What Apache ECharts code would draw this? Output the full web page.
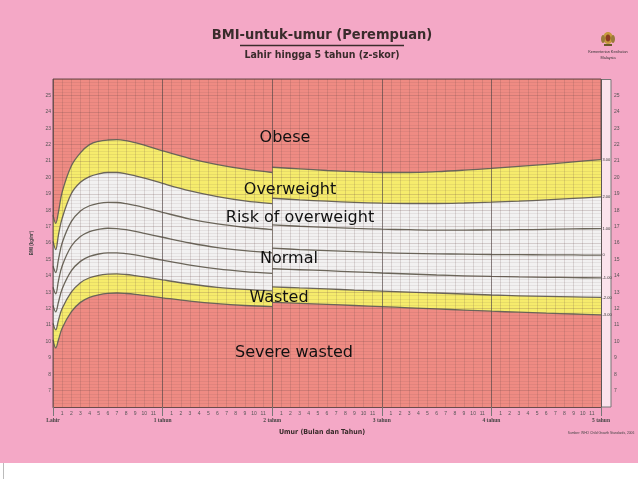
<!DOCTYPE html>
<html><head><meta charset="utf-8">
<script src="https://cdn.jsdelivr.net/npm/echarts@6/dist/echarts.min.js"></script>
<style>html,body{margin:0;padding:0;background:#F4A8C6;}#c{width:638px;height:479px;}</style>
</head><body><div id="c"></div>
<script>
// ---- data (BMI, kg/m2, by age in months) ----
const monthsA = [0,0.3,0.6,1,2,3,4,5,6,7,8,9,10,12,15,18,21,24];
const monthsB = [24,27,30,33,36,39,42,45,48,51,54,57,60];

const sd3A  = [17.7,17.2,17.9,19.1,20.7,21.5,22.0,22.2,22.28,22.3,22.24,22.12,21.97,21.62,21.15,20.78,20.50,20.30];
const sd2A  = [16.1,15.6,16.5,17.5,19.0,19.7,20.05,20.22,20.30,20.30,20.22,20.10,19.96,19.63,19.18,18.83,18.57,18.40];
const sd1A  = [14.6,14.2,15.0,16.0,17.3,17.95,18.27,18.42,18.48,18.47,18.40,18.29,18.16,17.87,17.46,17.16,16.96,16.82];
const sd0A  = [13.3,12.9,13.7,14.6,15.8,16.4,16.7,16.83,16.9,16.88,16.81,16.71,16.59,16.35,16.0,15.72,15.53,15.40];
const sdm1A = [12.2,11.8,12.4,13.2,14.3,14.88,15.18,15.33,15.4,15.4,15.35,15.27,15.17,14.95,14.65,14.42,14.26,14.15];
const sdm2A = [11.1,10.7,11.3,12.0,13.0,13.58,13.88,14.03,14.1,14.12,14.08,14.01,13.93,13.75,13.5,13.3,13.17,13.08];
const sdm3A = [10.1,9.6,10.1,10.8,11.8,12.38,12.68,12.84,12.93,12.95,12.92,12.87,12.8,12.66,12.46,12.3,12.19,12.12];

const sd3B  = [20.62,20.52,20.42,20.35,20.30,20.30,20.35,20.44,20.55,20.67,20.80,20.95,21.08];
const sd2B  = [18.73,18.63,18.55,18.48,18.43,18.41,18.41,18.44,18.49,18.55,18.63,18.72,18.81];
const sd1B  = [17.10,17.02,16.95,16.89,16.84,16.81,16.79,16.79,16.80,16.81,16.83,16.86,16.88];
const sd0B  = [15.69,15.60,15.53,15.47,15.41,15.37,15.34,15.32,15.30,15.29,15.28,15.27,15.26];
const sdm1B = [14.43,14.37,14.31,14.24,14.17,14.11,14.05,14.00,13.96,13.93,13.91,13.89,13.87];
const sdm2B = [13.33,13.26,13.20,13.13,13.07,13.01,12.95,12.89,12.83,12.78,12.74,12.71,12.68];
const sdm3B = [12.38,12.32,12.26,12.19,12.12,12.05,11.98,11.91,11.84,11.78,11.72,11.67,11.62];

const zLabels = ['3.00','2.00','1.00','0','-1.00','-2.00','-3.00'];
const yearLabels = ['Lahir','1 tahun','2 tahun','3 tahun','4 tahun','5 tahun'];
const bandNames = ['Obese','Overweight','Risk of overweight','Normal','Wasted','Severe wasted'];

// ---- chart ----
const chart = echarts.init(document.getElementById('c'), null, {renderer:'canvas'});
const RED = '#EF8B83', YEL = '#F6EC6C', WHT = '#F2F1F1';
const curvesA = [sd3A, sd2A, sd1A, sd0A, sdm1A, sdm2A, sdm3A];
const curvesB = [sd3B, sd2B, sd1B, sd0B, sdm1B, sdm2B, sdm3B];
const fills = [YEL, WHT, null, null, null, YEL, RED];

const series = [];
curvesA.forEach((c, i) => {
  const mk = (xs, ys, end) => {
    const s = {
      type: 'line', xAxisIndex: 0, yAxisIndex: 0, z: 2,
      data: xs.map((x, k) => [x, ys[k]]),
      showSymbol: false, smooth: 0.35, silent: true,
      lineStyle: {color: '#6b665a', width: 1.3},
    };
    if (fills[i]) s.areaStyle = {color: fills[i], opacity: 1, origin: 'start'};
    if (end) s.endLabel = {show: true, formatter: zLabels[i], fontSize: 4, color: '#333', distance: 1.5, fontFamily: 'Liberation Sans'};
    return s;
  };
  series.push(mk(monthsA, c, false));
  series.push(mk(monthsB, curvesB[i], true));
});

const FS = 5;
const option = {
  backgroundColor: '#F4A8C6',
  animation: false,
  grid: {left: 53, right: 37, top: 79, bottom: 72, show: true, backgroundColor: RED, borderColor: '#6a4a4a', borderWidth: 1},
  xAxis: [
    {type: 'value', min: 0, max: 60, interval: 1, z: 4,
     axisLine: {show: true, lineStyle: {color: '#6a4a4a'}}, axisTick: {show: false},
     axisLabel: {fontSize: FS, color: '#555', margin: 4, fontFamily: 'Liberation Sans',
       formatter: v => (v % 12 === 0 ? '' : String(v % 12))},
     splitLine: {show: true, lineStyle: {color: 'rgba(100,70,70,0.22)', width: 0.8}}},
    {type: 'value', min: 0, max: 60, interval: 12, z: 5, position: 'bottom',
     axisLine: {show: false}, axisTick: {show: true, length: 9, lineStyle: {color: '#777'}},
     axisLabel: {fontSize: 5.5, color: '#444', margin: 11, fontWeight: 'bold', fontFamily: 'Liberation Sans Narrow',
       formatter: v => yearLabels[Math.round(v / 12)]},
     splitLine: {show: true, lineStyle: {color: 'rgba(80,70,70,0.6)', width: 1}}}
  ],
  yAxis: [
    {type: 'value', min: 6, max: 26, interval: 1, z: 4,
     name: 'BMI (kg/m²)', nameLocation: 'middle', nameRotate: 90, nameGap: 12,
     nameTextStyle: {fontSize: 4.5, color: '#444', fontWeight: 'bold'},
     axisLine: {show: false}, axisTick: {show: false},
     axisLabel: {fontSize: FS, color: '#555', margin: 2, fontFamily: 'Liberation Sans',
       formatter: v => (v === 6 || v === 26 ? '' : String(v))},
     splitLine: {show: true, lineStyle: {color: 'rgba(100,70,70,0.28)', width: 0.8}},
     minorTick: {show: false, splitNumber: 5},
     minorSplitLine: {show: true, lineStyle: {color: 'rgba(100,70,70,0.16)', width: 0.6}}},
    {type: 'value', min: 6, max: 26, interval: 1, position: 'right', offset: 9, z: 4,
     axisLine: {show: false}, axisTick: {show: false}, splitLine: {show: false},
     axisLabel: {fontSize: FS, color: '#555', margin: 4, fontFamily: 'Liberation Sans',
       formatter: v => (v === 6 || v === 26 ? '' : String(v))}}
  ],
  series: series,
  graphic: [
    {type: 'rect', shape: {x: 601.5, y: 79.5, width: 9.5, height: 327.5}, style: {fill: '#FBE3EC', stroke: '#777', lineWidth: 1}, z: 1},
    {type: 'text', x: 322, y: 35, style: {text: 'BMI-untuk-umur (Perempuan)', fontSize: 14.5, fontWeight: 'bold', fontFamily: '"Liberation Sans Narrow","DejaVu Sans Condensed",sans-serif', fill: '#3a2c2c', align: 'center', verticalAlign: 'middle'}},
    {type: 'line', shape: {x1: 240, y1: 45.5, x2: 404, y2: 45.5}, style: {stroke: '#3a2c2c', lineWidth: 1.6}},
    {type: 'text', x: 322, y: 55.5, style: {text: 'Lahir hingga 5 tahun (z-skor)', fontSize: 10.5, fontWeight: 'bold', fontFamily: '"Liberation Sans Narrow","DejaVu Sans Condensed",sans-serif', fill: '#3a2c2c', align: 'center', verticalAlign: 'middle'}},
    // emblem
    {type: 'ellipse', shape: {cx: 608, cy: 38, rx: 5, ry: 6}, style: {fill: '#C79A3E'}},
    {type: 'ellipse', shape: {cx: 608, cy: 38, rx: 2.5, ry: 3.5}, style: {fill: '#8C3B22'}},
    {type: 'ellipse', shape: {cx: 603, cy: 39, rx: 2, ry: 4}, style: {fill: '#9a7a3a'}},
    {type: 'ellipse', shape: {cx: 613, cy: 39, rx: 2, ry: 4}, style: {fill: '#9a7a3a'}},
    {type: 'rect', shape: {x: 604, y: 44, width: 8, height: 2}, style: {fill: '#6b5a2a'}},
    {type: 'text', x: 608, y: 52, style: {text: 'Kementerian Kesihatan', fontSize: 3.8, fill: '#333', align: 'center', verticalAlign: 'middle', fontFamily: 'Liberation Sans'}},
    {type: 'text', x: 608, y: 58, style: {text: 'Malaysia', fontSize: 3.8, fill: '#333', align: 'center', verticalAlign: 'middle', fontFamily: 'Liberation Sans'}},
    // axis title & source
    {type: 'text', x: 322, y: 432, style: {text: 'Umur (Bulan dan Tahun)', fontSize: 7, fontWeight: 'bold', fill: '#3a2c2c', align: 'center', verticalAlign: 'middle', fontFamily: '"Liberation Sans Narrow","DejaVu Sans Condensed",sans-serif'}},
    {type: 'text', x: 601, y: 433, style: {text: 'Sumber: WHO Child Growth Standards, 2006', fontSize: 3.3, fill: '#444', align: 'center', verticalAlign: 'middle', fontFamily: 'Liberation Sans'}},
    // band labels
    {type: 'text', x: 285, y: 138, z: 20, style: {text: bandNames[0], fontSize: 16, fill: '#111', align: 'center', verticalAlign: 'middle', fontFamily: 'DejaVu Sans'}},
    {type: 'text', x: 290, y: 190, z: 20, style: {text: bandNames[1], fontSize: 16, fill: '#111', align: 'center', verticalAlign: 'middle', fontFamily: 'DejaVu Sans'}},
    {type: 'text', x: 300, y: 218, z: 20, style: {text: bandNames[2], fontSize: 16, fill: '#111', align: 'center', verticalAlign: 'middle', fontFamily: 'DejaVu Sans'}},
    {type: 'text', x: 289, y: 259, z: 20, style: {text: bandNames[3], fontSize: 16, fill: '#111', align: 'center', verticalAlign: 'middle', fontFamily: 'DejaVu Sans'}},
    {type: 'text', x: 279, y: 298, z: 20, style: {text: bandNames[4], fontSize: 16, fill: '#111', align: 'center', verticalAlign: 'middle', fontFamily: 'DejaVu Sans'}},
    {type: 'text', x: 294, y: 353, z: 20, style: {text: bandNames[5], fontSize: 16, fill: '#111', align: 'center', verticalAlign: 'middle', fontFamily: 'DejaVu Sans'}},
    // bottom white strip
    {type: 'rect', shape: {x: 0, y: 463, width: 638, height: 16}, style: {fill: '#FFFFFF'}},
    {type: 'line', shape: {x1: 3.5, y1: 463, x2: 3.5, y2: 479}, style: {stroke: '#bbb', lineWidth: 1}}
  ]
};
chart.setOption(option);
</script>
</body></html>
